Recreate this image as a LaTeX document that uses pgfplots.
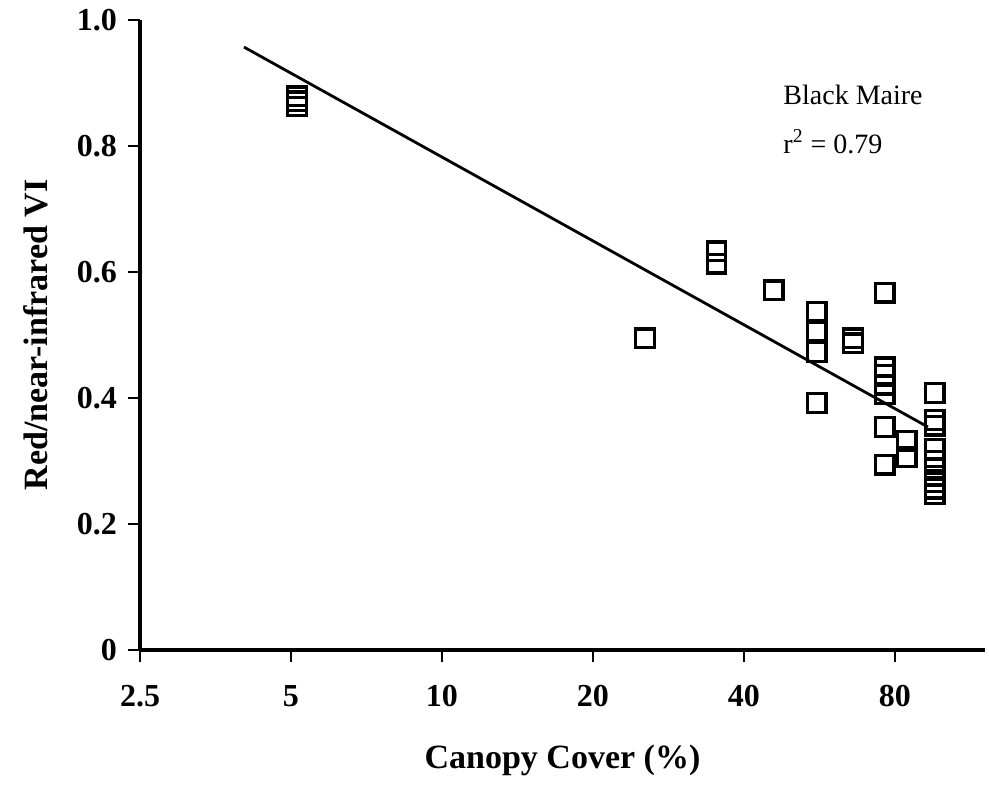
\documentclass[border=0pt]{standalone}
\usepackage{pgfplots}
\pgfplotsset{compat=1.18}
\usepackage{fontspec}
\setmainfont{Liberation Serif}
\begin{document}
\begin{tikzpicture}
\begin{axis}[
  name=ax, at={(0,0)}, anchor=south west,
  scale only axis, width=422.5pt, height=315pt,
  xmode=log, log basis x=2,
  xmin=2.5, xmax=121, ymin=0, ymax=1.0,
  axis x line*=bottom, axis y line*=left,
  axis line style={line width=1.6pt},
  every tick/.style={line width=1.2pt, black},
  tick align=outside, major tick length=6pt,
  xtick={2.5,5,10,20,40,80},
  xticklabels={2.5,5,10,20,40,80},
  ytick={0,0.2,0.4,0.6,0.8,1.0},
  yticklabels={0,0.2,0.4,0.6,0.8,1.0},
  minor tick num=0,
  ticklabel style={font=\fontsize{16}{18}\selectfont\bfseries},
  xticklabel style={yshift=-8pt},
  yticklabel style={xshift=-2pt},
  xlabel={Canopy Cover (\%)},
  ylabel={Red/near-infrared VI},
  label style={font=\fontsize{17}{20}\selectfont\bfseries},
  xlabel style={yshift=-12pt},
  ylabel style={yshift=7.5pt},
  clip=false,
]
\addplot[only marks, mark=square, mark size=4.6pt, mark options={line width=1.6pt, black, fill=none}] coordinates {
(5.14,0.879) (5.14,0.871) (5.14,0.863)
(25.4,0.495)
(35.3,0.633) (35.3,0.613)
(45.9,0.571)
(55.9,0.537) (55.9,0.505) (55.9,0.473) (55.9,0.392)
(66.0,0.495) (66.0,0.487)
(76.4,0.567) (76.4,0.449) (76.4,0.437) (76.4,0.421) (76.4,0.406) (76.4,0.354) (76.4,0.294)
(84.5,0.332) (84.5,0.306)
(96.1,0.408) (96.1,0.365) (96.1,0.356) (96.1,0.319) (96.1,0.300) (96.1,0.288) (96.1,0.277) (96.1,0.266) (96.1,0.256) (96.1,0.247)
};
\addplot[black, line width=1.4pt, no marks] coordinates {(4.03,0.957) (93.1,0.354)};
\node[anchor=north west, align=left, inner sep=0pt, font=\fontsize{14}{24.5}\selectfont] at (rel axis cs:0.761,0.898) {Black Maire\\r\textsuperscript{2} = 0.79};
\end{axis}
\pgfresetboundingbox
\path (-70pt,-68pt) rectangle (424.5pt,325pt);
\end{tikzpicture}
\end{document}
